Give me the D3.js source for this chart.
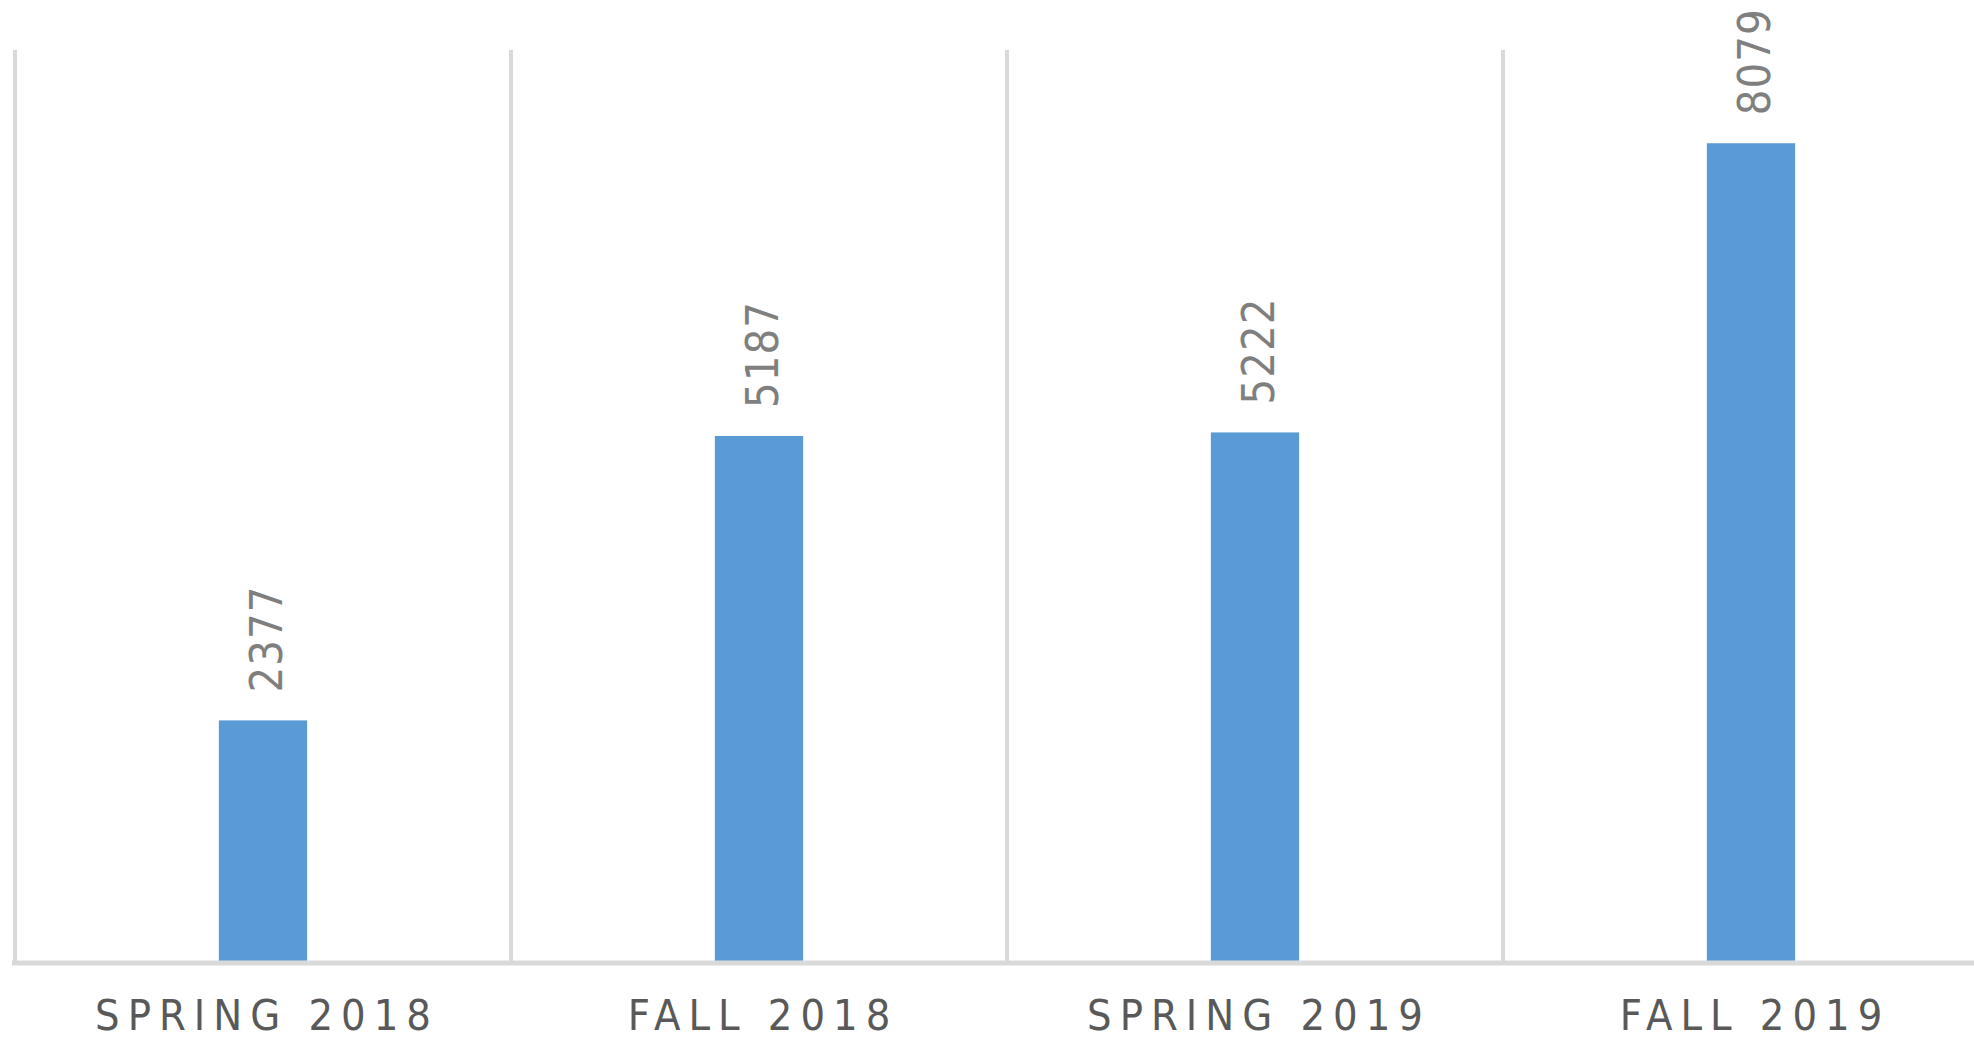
<!DOCTYPE html>
<html>
<head>
<meta charset="utf-8">
<script src="https://cdn.jsdelivr.net/npm/d3@7"></script>
<style>
  html, body { margin: 0; padding: 0; background: #ffffff; overflow: hidden; }
  svg { display: block; }
</style>
</head>
<body>
<svg id="chart" width="1974" height="1041"></svg>
<script>
const categories = ["SPRING 2018", "FALL 2018", "SPRING 2019", "FALL 2019"];
const values = [2377, 5187, 5222, 8079];
const yDomain = [0, 9000];

(function () {
const W = 1974, H = 1041;
const plotLeft = 15, step = 496, plotTop = 50, baseline = 961;

const svg = d3.select("#chart");

const x = d3.scaleBand()
  .domain(categories)
  .range([plotLeft, plotLeft + step * categories.length])
  .padding(0);

const y = d3.scaleLinear().domain(yDomain).range([baseline, plotTop]);

const barW = x.bandwidth() * 0.178;

// vertical gridlines at category boundaries
const bounds = categories.map(c => x(c));
svg.append("g").selectAll("line")
  .data(bounds)
  .join("line")
  .attr("x1", d => d).attr("x2", d => d)
  .attr("y1", y(yDomain[1])).attr("y2", y(0))
  .attr("stroke", "#d9d9d9")
  .attr("stroke-width", 4);

// bars
svg.append("g").selectAll("rect")
  .data(values)
  .join("rect")
  .attr("x", (d, i) => x(categories[i]) + x.bandwidth() / 2 - barW / 2)
  .attr("y", d => y(d))
  .attr("width", barW)
  .attr("height", d => y(0) - y(d))
  .attr("fill", "#5b9bd5");

// horizontal axis line
svg.append("line")
  .attr("x1", plotLeft - 3).attr("x2", W)
  .attr("y1", y(0) + 2).attr("y2", y(0) + 2)
  .attr("stroke", "#d9d9d9")
  .attr("stroke-width", 5);

const fam = "'Liberation Sans Narrow', 'Arial Narrow', 'DejaVu Sans Condensed', 'Liberation Sans', sans-serif";

// category labels
const catFont = 43;
const catSpace = 8;
svg.append("g").selectAll("text")
  .data(categories)
  .join("text")
  .attr("x", d => x(d) + x.bandwidth() / 2 + catSpace / 2)
  .attr("y", baseline + 69)
  .attr("text-anchor", "middle")
  .style("font-family", fam)
  .style("font-size", catFont + "px")
  .style("letter-spacing", catSpace + "px")
  .attr("fill", "#595959")
  .text(d => d);

// value labels (rotated)
const valFont = 45;
svg.append("g").selectAll("text")
  .data(values)
  .join("text")
  .attr("transform", (d, i) => {
    const cx = x(categories[i]) + x.bandwidth() / 2 + 3 + valFont * 0.36;
    const cy = y(d) - 28;
    return `translate(${cx},${cy}) rotate(-90)`;
  })
  .attr("text-anchor", "start")
  .style("font-family", fam)
  .style("font-size", valFont + "px")
  .style("letter-spacing", "1px")
  .attr("fill", "#7f7f7f")
  .text(d => d);
})();
</script>
</body>
</html>
